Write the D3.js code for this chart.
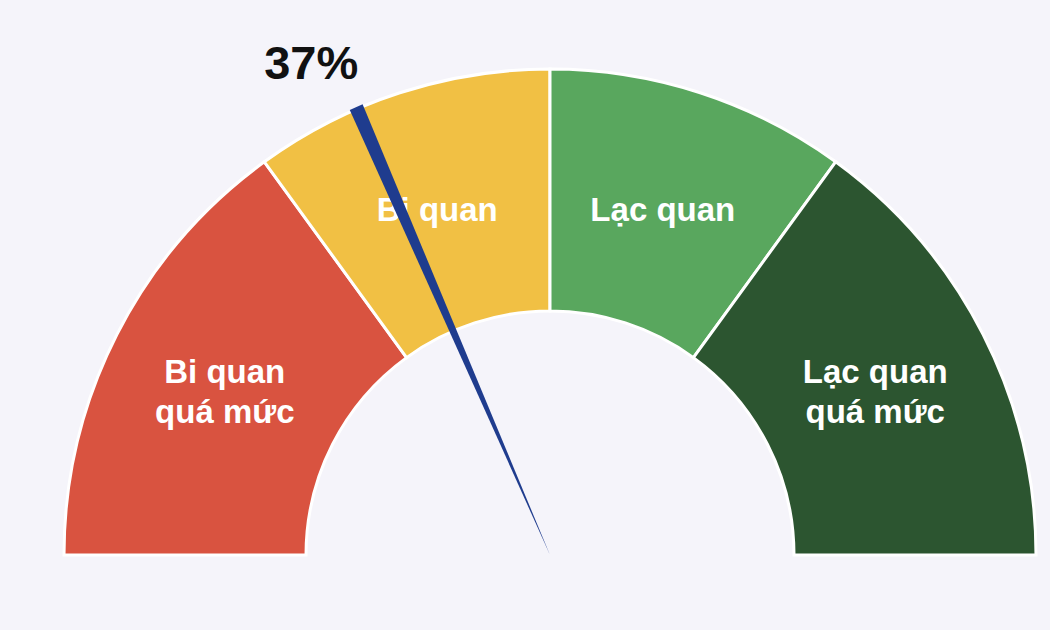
<!DOCTYPE html>
<html lang="vi">
<head>
<meta charset="utf-8">
<title>Gauge</title>
<script src="https://d3js.org/d3.v7.min.js"></script>
<style>
  html, body { margin: 0; padding: 0; background: #f5f4fa; }
  svg { display: block; font-family: "Liberation Sans", Arial, Helvetica, sans-serif; }
</style>
</head>
<body>
<script>
// segments of the gauge, in percent of the half circle
var zoneLabels = [["Bi quan", "quá mức"], ["Bi quan"], ["Lạc quan"], ["Lạc quan", "quá mức"]];
var zoneValues = [30, 20, 20, 30];
var zoneColors = ["#d95340", "#f1c044", "#59a75e", "#2c5530"];
var needleValue = 37;

var w = 1050, h = 630,
    cx = 550, cy = 555,
    outerR = 486, innerR = 244;

var svg = d3.select("body").append("svg")
    .attr("width", w)
    .attr("height", h);

svg.append("rect").attr("width", w).attr("height", h).attr("fill", "#f5f4fa");

var g = svg.append("g").attr("transform", "translate(" + cx + "," + cy + ")");

var pie = d3.pie()
    .sort(null)
    .startAngle(-Math.PI / 2)
    .endAngle(Math.PI / 2)
    .value(function(d) { return d; });

var arc = d3.arc().innerRadius(innerR).outerRadius(outerR);
var labelArc = d3.arc().innerRadius((innerR + outerR) / 2).outerRadius((innerR + outerR) / 2);

var arcs = pie(zoneValues);

g.selectAll("path.zone")
    .data(arcs)
    .enter().append("path")
    .attr("class", "zone")
    .attr("d", arc)
    .attr("fill", function(d, i) { return zoneColors[i]; })
    .attr("stroke", "#ffffff")
    .attr("stroke-width", 3)
    .attr("stroke-linejoin", "miter");

var fontSize = 33, lineH = 40;
var labels = g.selectAll("text.zone-label")
    .data(arcs)
    .enter().append("text")
    .attr("class", "zone-label")
    .attr("text-anchor", "middle")
    .attr("fill", "#ffffff")
    .attr("font-weight", "bold")
    .attr("font-size", fontSize)
    .attr("transform", function(d) {
        var c = labelArc.centroid(d);
        return "translate(" + c[0] + "," + (c[1] + 2) + ")";
    });

labels.each(function(d, i) {
    var lines = zoneLabels[i];
    var t = d3.select(this);
    lines.forEach(function(line, j) {
        t.append("tspan")
            .attr("x", 0)
            .attr("y", (j - (lines.length - 1) / 2) * lineH)
            .attr("dy", "0.35em")
            .text(line);
    });
});

// needle
var angle = d3.scaleLinear().domain([0, 100]).range([-90, 90]);
var needleLen = outerR + 2, needleHalf = 7;

g.append("path")
    .attr("d", "M0,0 L" + (-needleHalf) + "," + (-needleLen) + " L" + needleHalf + "," + (-needleLen) + " Z")
    .attr("fill", "#1f3c8e")
    .attr("transform", "rotate(" + angle(needleValue) + ")");

var a = angle(needleValue) * Math.PI / 180;
var tipX = Math.sin(a) * needleLen, tipY = -Math.cos(a) * needleLen;

g.append("text")
    .attr("x", tipX - 45)
    .attr("y", tipY - 28)
    .attr("text-anchor", "middle")
    .attr("font-weight", "bold")
    .attr("font-size", 47)
    .attr("fill", "#111111")
    .text(needleValue + "%");
</script>
</body>
</html>
